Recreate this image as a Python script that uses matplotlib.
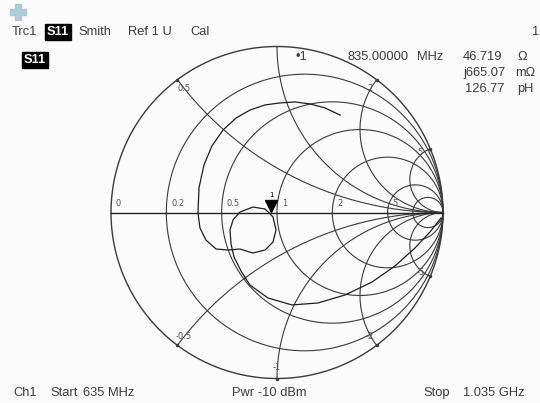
import numpy as np
import matplotlib.pyplot as plt

# grid values of the Smith chart
r_circles = [0.2, 0.5, 1, 2, 5, 10]
x_arcs = [0.5, 1, 2, 5]
r_labels = ["0", "0.2", "0.5", "1", "2", "5"]
r_label_vals = [0, 0.2, 0.5, 1, 2, 5]
x_labels = ["0.5", "2", "5", "-0.5", "-1", "-2", "-5"]
x_label_vals = [0.5, 2, 5, -0.5, -1, -2, -5]

# S11 trace 635 MHz -> 1035 MHz, reflection coefficient
trace_re = [0.988, 0.922, 0.831, 0.711, 0.572, 0.410, 0.247, 0.090, -0.054,
            -0.163, -0.217, -0.259, -0.277, -0.283, -0.265, -0.223, -0.145,
            -0.072, -0.024, -0.006, -0.024, -0.072, -0.145, -0.223, -0.295,
            -0.367, -0.428, -0.464, -0.476, -0.470, -0.440, -0.392, -0.325,
            -0.247, -0.163, -0.072, 0.018, 0.108, 0.199, 0.289, 0.380]
trace_im = [-0.033, -0.117, -0.214, -0.322, -0.419, -0.497, -0.545, -0.557, -0.515,
            -0.437, -0.352, -0.268, -0.190, -0.105, -0.045, 0.003, 0.033,
            0.021, -0.027, -0.105, -0.178, -0.226, -0.244, -0.220, -0.226,
            -0.220, -0.166, -0.093, -0.003, 0.148, 0.286, 0.401, 0.497,
            0.569, 0.617, 0.648, 0.660, 0.666, 0.654, 0.630, 0.587]

# marker 1 at 835 MHz
mk_R, mk_X = 46.719, 0.66507
z0 = 50.0

W, H = 540, 403
CX, CY, RAD = 277, 212.5, 166

fig = plt.figure(figsize=(W / 100, H / 100), dpi=100)
fig.patch.set_facecolor("#fbfbfb")
ax = fig.add_axes([0, 0, 1, 1])
ax.set_xlim(-CX / RAD, (W - CX) / RAD)
ax.set_ylim(-(H - CY) / RAD, CY / RAD)
ax.axis("off")

gc = "#3a3a3a"
t = np.linspace(0, 2 * np.pi, 400)
ax.plot(np.cos(t), np.sin(t), color=gc, lw=1.0)
for r in r_circles:
    c, rr = r / (1 + r), 1 / (1 + r)
    ax.plot(c + rr * np.cos(t), rr * np.sin(t), color=gc, lw=0.8)

rs = np.concatenate([[0], np.logspace(-3, 3, 500)])
for x in x_arcs:
    for s in (1, -1):
        z = rs + 1j * s * x
        g = (z - 1) / (z + 1)
        ax.plot(g.real, g.imag, color=gc, lw=0.8)
ax.plot([-1, 1], [0, 0], color="#222222", lw=1.0)

fs = 6
lc = "#555555"
for lab, r in zip(r_labels, r_label_vals):
    g = (r - 1) / (r + 1)
    ax.text(g + 0.03, 0.03, lab, fontsize=fs, color=lc, ha="left", va="bottom")
for lab, x in zip(x_labels, x_label_vals):
    g = (1j * x - 1) / (1j * x + 1)
    ax.plot(g.real, g.imag, marker="o", ms=1.5, color=gc)
    ax.text(g.real * 0.935, g.imag * 0.935, lab, fontsize=fs, color=lc, ha="center", va="center")

ax.plot(trace_re, trace_im, color="#1e1e1e", lw=0.9)

zm = complex(mk_R, mk_X) / z0
gm = (zm - 1) / (zm + 1)
ax.plot(gm.real, gm.imag + 0.03, marker="v", color="black", ms=8)
ax.text(gm.real, gm.imag + 0.08, "1", fontsize=5, ha="center", va="bottom")

def ftext(x, y, s, **kw):
    kw.setdefault("fontsize", 9.3)
    kw.setdefault("color", "#3c3c3c")
    kw.setdefault("family", "Liberation Sans")
    fig.text(x / W, 1 - y / H, s, va="center", **kw)

# instrument icon
ax.plot((18 - CX) / RAD, (CY - 12) / RAD, marker="P", ms=11, color="#9fc3cf", alpha=0.8)

ftext(12, 32, "Trc1")
ftext(47, 32, "S11", color="white", fontweight="bold",
      bbox=dict(boxstyle="square,pad=0.18", fc="black", ec="black"))
ftext(78, 32, "Smith")
ftext(128, 32, "Ref 1 U")
ftext(190, 32, "Cal")
fig.text(539 / W, 1 - 32 / H, "1", ha="right", va="center", fontsize=9.3,
         color="#3c3c3c", family="Liberation Sans")
ftext(24, 60, "S11", color="white", fontweight="bold",
      bbox=dict(boxstyle="square,pad=0.18", fc="black", ec="black"))

ftext(295, 57, "•1")
ftext(347, 57, "835.00000")
ftext(417, 57, "MHz")
ftext(463, 57, "46.719")
ftext(517, 57, "Ω")
ftext(463, 73, "j665.07")
ftext(515, 73, "mΩ")
ftext(465, 89, "126.77")
ftext(517, 89, "pH")

ftext(13, 393, "Ch1")
ftext(50, 393, "Start")
ftext(83, 393, "635 MHz")
ftext(232, 393, "Pwr -10 dBm")
ftext(423, 393, "Stop")
ftext(463, 393, "1.035 GHz")

fig.savefig("out.png", dpi=100, facecolor=fig.get_facecolor())
